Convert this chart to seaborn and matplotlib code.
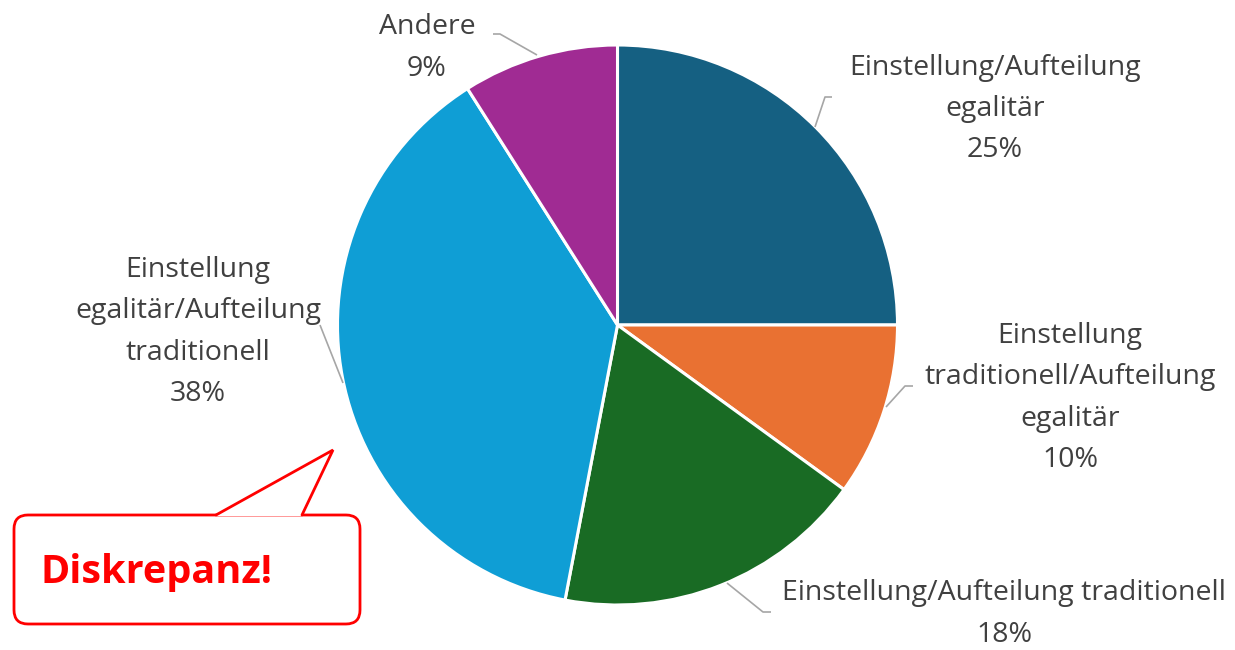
import matplotlib
matplotlib.use("Agg")
import matplotlib.pyplot as plt
import seaborn as sns
from matplotlib.patches import FancyBboxPatch, Polygon

categories = [
    "Einstellung/Aufteilung\negalitär",
    "Einstellung\ntraditionell/Aufteilung\negalitär",
    "Einstellung/Aufteilung traditionell",
    "Einstellung\negalitär/Aufteilung\ntraditionell",
    "Andere",
]
values = [25, 10, 18, 38, 9]
colors = ["#156082", "#E97132", "#196B24", "#0F9ED5", "#A02B93"]

sns.set_theme(style="white")
plt.rcParams["font.family"] = ["Open Sans", "DejaVu Sans"]

W, H = 1235, 650
fig = plt.figure(figsize=(W / 100, H / 100), dpi=100)
ax = fig.add_axes([0, 0, 1, 1])
pal = sns.color_palette(colors)

def Y(py):
    return H - py

ax.pie(values, colors=pal, startangle=90, counterclock=False,
       center=(617.5, Y(325)), radius=280,
       wedgeprops=dict(edgecolor="white", linewidth=2.2), frame=True)
ax.set_xlim(0, W)
ax.set_ylim(0, H)
ax.set_aspect("equal")
ax.axis("off")

# label positions (pixel coords) and leader lines
label_pos = [(995, 109), (1070, 398), (1004, 614), (198, 332), (427, 48)]
leaders = [
    [(832, 97), (825, 97), (815, 127)],
    [(913, 386), (905, 386), (886, 407)],
    [(727, 583), (763, 612), (771, 612)],
    [(320, 325), (343, 383)],
    [(493, 34), (500, 34), (537, 55)],
]
for cat, v, (lx, ly), pts in zip(categories, values, label_pos, leaders):
    ax.text(lx, Y(ly), f"{cat}\n{v}%", ha="center", va="center",
            fontsize=20.5, color="#404040", linespacing=1.64)
    ax.plot([p[0] for p in pts], [Y(p[1]) for p in pts],
            color="#A6A6A6", lw=1.2, solid_capstyle="butt")

# callout
red = "#FF0000"
box = FancyBboxPatch((14 + 14, Y(624) + 14), 346 - 28, 109 - 28,
                     boxstyle="round,pad=14", facecolor="white",
                     edgecolor=red, linewidth=2)
ax.add_patch(box)
tri = Polygon([(216, Y(516)), (333, Y(450)), (302, Y(516))], closed=True,
              facecolor="white", edgecolor="none", zorder=3)
ax.add_patch(tri)
ax.plot([216, 333, 302], [Y(515), Y(450), Y(515)], color=red, lw=2, zorder=4,
        solid_joinstyle="miter")
ax.text(157, Y(572), "Diskrepanz!", ha="center", va="center", color=red,
        fontsize=28.5, fontweight="bold", zorder=5)

fig.savefig("out.png", dpi=100)
